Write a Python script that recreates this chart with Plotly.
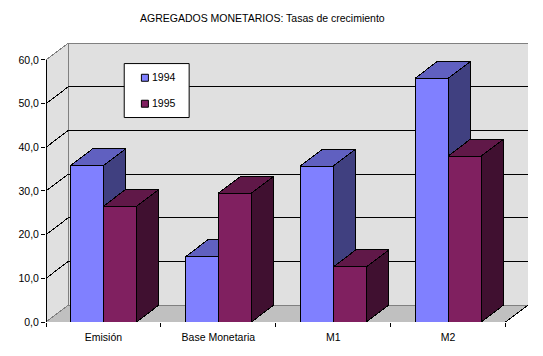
import plotly.graph_objects as go

categories = ["Emisión", "Base Monetaria", "M1", "M2"]
series_names = ["1994", "1995"]
values_1994 = [35.8, 14.9, 35.7, 55.8]
values_1995 = [26.5, 29.5, 12.6, 38.0]
y_ticks = [0, 10, 20, 30, 40, 50, 60]
y_tick_labels = ["0,0", "10,0", "20,0", "30,0", "40,0", "50,0", "60,0"]
title_text = "AGREGADOS MONETARIOS: Tasas de crecimiento"

DX, DY = 0.195, 3.89      # oblique depth in axis units
BAR_W = 0.288
GAP = (1 - 2 * BAR_W) / 2
N = len(categories)
Y_MAX = y_ticks[-1]
FONT = "Liberation Sans"
FS = 10.5


def polys(rects):
    xs, ys = [], []
    for r in rects:
        xs += [p[0] for p in r] + [r[0][0], None]
        ys += [p[1] for p in r] + [r[0][1], None]
    return xs, ys


def poly_trace(rects, fill, line="black", width=1):
    xs, ys = polys(rects)
    return go.Scatter(x=xs, y=ys, mode="lines", fill="toself", fillcolor=fill,
                      line=dict(color=line, width=width), showlegend=False,
                      hoverinfo="skip", cliponaxis=False)


def line_trace(segs, color):
    xs, ys = [], []
    for a, b in segs:
        xs += [a[0], b[0], None]
        ys += [a[1], b[1], None]
    return go.Scatter(x=xs, y=ys, mode="lines", line=dict(color=color, width=1),
                      showlegend=False, hoverinfo="skip", cliponaxis=False)


fig = go.Figure()

# walls and floor
fig.add_trace(poly_trace([[(DX, DY), (N + DX, DY), (N + DX, Y_MAX + DY), (DX, Y_MAX + DY)]], "#E0E0E0", "#808080"))
fig.add_trace(poly_trace([[(0, 0), (DX, DY), (DX, Y_MAX + DY), (0, Y_MAX)]], "#E0E0E0", "#808080"))
fig.add_trace(poly_trace([[(0, 0), (N, 0), (N + DX, DY), (DX, DY)]], "#C0C0C0", "#808080"))

# gridlines
inner = y_ticks[1:-1]
fig.add_trace(line_trace([((DX, v + DY), (N + DX, v + DY)) for v in inner], "black"))
fig.add_trace(line_trace([((0, v), (DX, v + DY)) for v in inner], "black"))

# bars
palette = [("#8080FF", "#6060C0", "#404080"), ("#802060", "#601848", "#401030")]
for s, vals in enumerate([values_1994, values_1995]):
    front, top, side = [], [], []
    for i, v in enumerate(vals):
        x0 = i + GAP + s * BAR_W
        x1 = x0 + BAR_W
        front.append([(x0, 0), (x1, 0), (x1, v), (x0, v)])
        top.append([(x0, v), (x1, v), (x1 + DX, v + DY), (x0 + DX, v + DY)])
        side.append([(x1, 0), (x1 + DX, DY), (x1 + DX, v + DY), (x1, v)])
    fig.add_trace(poly_trace(top, palette[s][1]))
    fig.add_trace(poly_trace(side, palette[s][2]))
    fig.add_trace(poly_trace(front, palette[s][0]))

# axis lines
fig.add_trace(line_trace([((0, 0), (0, Y_MAX)), ((0, 0), (N, 0)), ((N, 0), (N + DX, DY))], "black"))

W, H = 543, 356
L, R, T, B = 46, 528.5, 42.7, 322

# legend box, on top of the traces
shapes = [dict(type="rect", xref="paper", yref="paper",
               x0=(124.3 - L) / (R - L), x1=(189.3 - L) / (R - L),
               y0=(B - 117.3) / (B - T), y1=(B - 63.3) / (B - T),
               fillcolor="white", line=dict(color="black", width=1), layer="above")]
annotations = []
for name, col, cy in zip(series_names, [palette[0][0], palette[1][0]], [77.5, 103.5]):
    shapes.append(dict(type="rect", xref="paper", yref="paper",
                       x0=(141.5 - L) / (R - L), x1=(148.5 - L) / (R - L),
                       y0=(B - cy - 3.5) / (B - T), y1=(B - cy + 3.5) / (B - T),
                       fillcolor=col, line=dict(color="black", width=1), layer="above"))
    annotations.append(dict(text=name, xref="paper", yref="paper", showarrow=False,
                            x=(150.5 - L) / (R - L), y=(B - cy + 0.5) / (B - T),
                            xanchor="left", yanchor="middle",
                            font=dict(family=FONT, size=FS, color="black")))
annotations.append(dict(text=title_text, xref="paper", yref="paper", showarrow=False,
                        x=(263 - L) / (R - L), y=(B - 18) / (B - T),
                        xanchor="center", yanchor="middle",
                        font=dict(family=FONT, size=FS, color="black")))

fig.update_layout(
    width=W, height=H, autosize=False,
    margin=dict(l=L, r=W - R, t=T, b=H - B, pad=0),
    paper_bgcolor="white", plot_bgcolor="white",
    showlegend=False, shapes=shapes, annotations=annotations,
    font=dict(family=FONT, size=FS, color="black"),
    xaxis=dict(range=[0, N + DX], showgrid=False, zeroline=False, showline=False,
               tickmode="array", tickvals=[i + 0.5 for i in range(N)], ticktext=categories,
               ticks="", ticklen=0, ticklabelstandoff=7,
               minor=dict(tickmode="array", tickvals=list(range(N + 1)), ticks="outside",
                          ticklen=4, tickcolor="black", tickwidth=1, showgrid=False),
               tickfont=dict(family=FONT, size=FS, color="black")),
    yaxis=dict(range=[0, Y_MAX + DY], showgrid=False, zeroline=False, showline=False,
               tickmode="array", tickvals=y_ticks, ticktext=y_tick_labels,
               ticks="outside", ticklen=4, tickcolor="black", tickwidth=1,
               tickfont=dict(family=FONT, size=FS, color="black")),
)

fig.write_html(
    "out.html",
    config={"displayModeBar": False},
    post_script="document.body.style.margin='0';"
                "var s=document.createElement('style');"
                "s.textContent='.scatterlayer path{shape-rendering:crispEdges}';"
                "document.head.appendChild(s);",
)
